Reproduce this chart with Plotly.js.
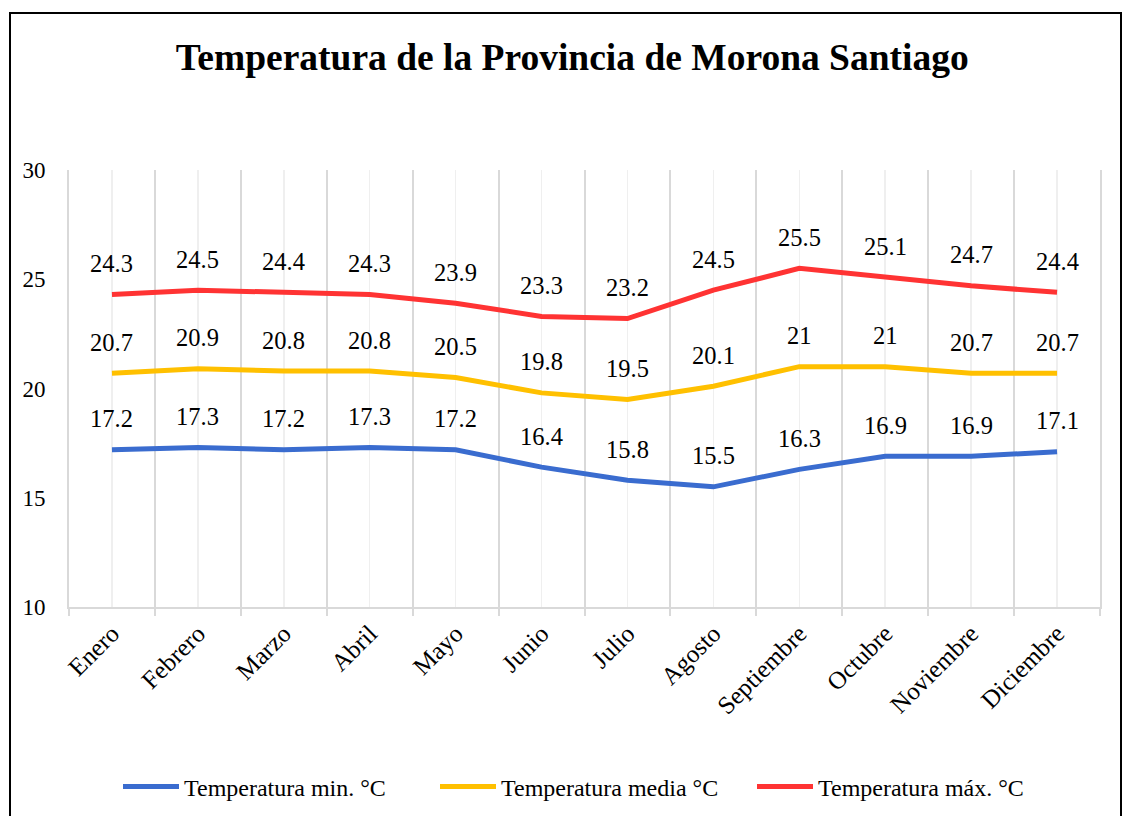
<!DOCTYPE html>
<html>
<head>
<meta charset="utf-8">
<script src="https://cdn.plot.ly/plotly-3.0.1.min.js"></script>
<style>
  html, body { margin: 0; padding: 0; background: #fff; }
  #chart { position: absolute; left: 0; top: 0; width: 1122px; height: 816px; }
  #frame { position: absolute; left: 9px; top: 12px; width: 1109px; height: 830px; border: 2px solid #000; pointer-events: none; }
</style>
</head>
<body>
<div id="chart"></div>
<div id="frame"></div>
<script>
const months = ["Enero","Febrero","Marzo","Abril","Mayo","Junio","Julio","Agosto","Septiembre","Octubre","Noviembre","Diciembre"];
const tempMin = [17.2, 17.3, 17.2, 17.3, 17.2, 16.4, 15.8, 15.5, 16.3, 16.9, 16.9, 17.1];
const tempMedia = [20.7, 20.9, 20.8, 20.8, 20.5, 19.8, 19.5, 20.1, 21, 21, 20.7, 20.7];
const tempMax = [24.3, 24.5, 24.4, 24.3, 23.9, 23.3, 23.2, 24.5, 25.5, 25.1, 24.7, 24.4];
const seriesNames = ["Temperatura min. °C", "Temperatura media °C", "Temperatura máx. °C"];
const yTicks = [10, 15, 20, 25, 30];

const FONT = "Liberation Serif";
const colors = ["#3A6CCF", "#FFC000", "#FF3333"];
const series = [tempMin, tempMedia, tempMax];
const xIdx = months.map((m, i) => i);

const traces = series.map((vals, s) => ({
  type: "scatter",
  mode: "lines",
  x: xIdx,
  y: vals,
  name: seriesNames[s],
  line: { color: colors[s], width: 5, shape: "linear" },
  hoverinfo: "x+y"
}));

const annotations = [];
series.forEach((vals) => {
  vals.forEach((v, i) => {
    annotations.push({
      x: i, y: v, xref: "x", yref: "y",
      text: String(v), showarrow: false,
      yshift: 31, yanchor: "middle",
      font: { family: FONT, size: 24.5, color: "#000" }
    });
  });
});

const layout = {
  width: 1122, height: 816,
  paper_bgcolor: "#fff", plot_bgcolor: "#fff",
  margin: { l: 69, r: 22, t: 170, b: 209 },
  title: {
    text: "<b>Temperatura de la Provincia de Morona Santiago</b>",
    font: { family: FONT, size: 37.5, color: "#000" },
    xref: "container", x: 0.51, xanchor: "center",
    yref: "container", y: 1 - 57 / 816, yanchor: "middle"
  },
  xaxis: {
    type: "linear",
    range: [-0.5, months.length - 0.5],
    tickmode: "array",
    tickvals: xIdx,
    ticktext: months,
    tickangle: -45,
    tickfont: { family: FONT, size: 25, color: "#000" },
    showgrid: true, gridcolor: "#efefef", gridwidth: 1.5,
    ticks: "",
    zeroline: false,
    showline: true, linecolor: "#d9d9d9", linewidth: 2,
    minor: {
      tickmode: "linear", tick0: -0.5, dtick: 1,
      showgrid: true, gridcolor: "#d9d9d9", gridwidth: 2,
      ticks: "outside", ticklen: 7, tickcolor: "#d9d9d9", tickwidth: 2
    },
    fixedrange: true
  },
  yaxis: {
    range: [10, 30],
    tickmode: "array",
    tickvals: yTicks,
    ticktext: yTicks.map(String),
    tickfont: { family: FONT, size: 23, color: "#000" },
    showgrid: false,
    zeroline: false,
    showline: true, mirror: true, linecolor: "#d9d9d9", linewidth: 2,
    ticks: "",
    ticklabelstandoff: 17,
    fixedrange: true
  },
  showlegend: true,
  legend: {
    orientation: "h",
    xref: "container", x: 118 / 1122, xanchor: "left",
    yref: "container", y: 1 - 787 / 816, yanchor: "middle",
    font: { family: FONT, size: 24, color: "#000" },
    entrywidth: 246, entrywidthmode: "pixels",
    itemwidth: 56
  },
  annotations: annotations
};

Plotly.newPlot("chart", traces, layout, { displayModeBar: false, staticPlot: true });
</script>
</body>
</html>
